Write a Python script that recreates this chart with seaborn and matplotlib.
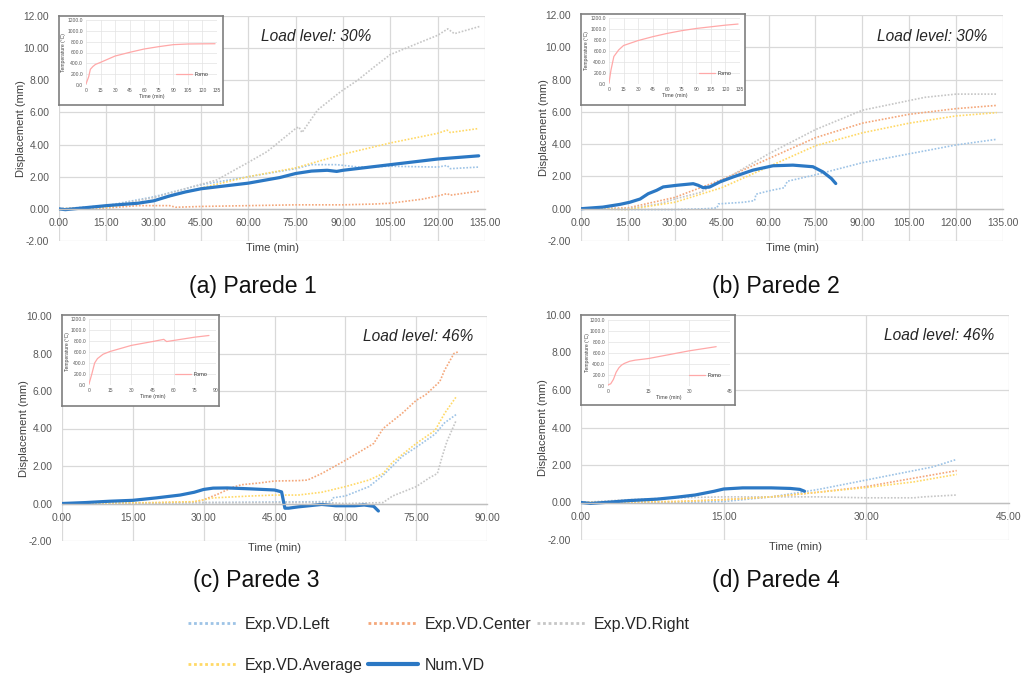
import numpy as np
import matplotlib.pyplot as plt
import seaborn as sns
from matplotlib.lines import Line2D
from matplotlib.ticker import FormatStrFormatter

# ---- values ----
# (a) Parede 1
a_left_t = [0, 15, 30, 45, 60, 75, 80, 88, 95, 105, 120, 123, 124, 133]
a_left_y = [0, 0.2, 0.75, 1.5, 2.0, 2.5, 2.75, 2.75, 2.6, 2.65, 2.6, 2.7, 2.5, 2.6]
a_center_t = [0, 15, 25, 35, 37, 45, 60, 75, 90, 100, 105, 115, 120, 123, 124, 133]
a_center_y = [0, 0.05, 0.2, 0.2, 0.1, 0.15, 0.2, 0.25, 0.25, 0.3, 0.35, 0.6, 0.8, 0.95, 0.85, 1.1]
a_right_t = [0, 15, 30, 40, 50, 59.6, 66, 75, 76, 77, 82, 89.3, 94.6, 100, 105, 113.7, 120, 123.2, 125.3, 133.3]
a_right_y = [0, 0.15, 0.7, 1.25, 1.8, 2.85, 3.57, 5.0, 5.1, 4.75, 6.16, 7.3, 8.0, 8.85, 9.6, 10.3, 10.8, 11.2, 10.9, 11.35]
a_avg_t = [0, 15, 30, 45, 60, 75, 90, 105, 120, 123, 124, 133]
a_avg_y = [0, 0.1, 0.5, 1.3, 2.0, 2.55, 3.4, 4.1, 4.7, 4.9, 4.75, 5.0]
a_num_t = [0, 2, 15, 25, 30, 35, 40, 45, 60, 70, 75, 80, 85, 88, 90, 105, 120, 133]
a_num_y = [0, -0.05, 0.2, 0.35, 0.5, 0.8, 1.05, 1.25, 1.6, 1.95, 2.2, 2.35, 2.4, 2.33, 2.4, 2.75, 3.1, 3.3]

# (b) Parede 2
b_left_t = [0, 15, 30, 40, 43.5, 44, 52, 55.5, 56, 60, 65, 66, 75, 90, 105, 120, 133]
b_left_y = [0, -0.05, -0.05, 0.0, 0.05, 0.3, 0.4, 0.5, 0.9, 1.1, 1.3, 1.7, 2.1, 2.85, 3.4, 3.95, 4.3]
b_center_t = [0, 15, 30, 45, 60, 75, 90, 105, 120, 133]
b_center_y = [0, 0.05, 0.7, 1.8, 3.1, 4.4, 5.3, 5.85, 6.2, 6.4]
b_right_t = [0, 15, 25, 30, 38, 45, 60, 75, 90, 100, 110, 120, 133]
b_right_y = [0, 0.0, 0.3, 0.6, 1.0, 1.7, 3.4, 4.9, 6.1, 6.5, 6.9, 7.1, 7.1]
b_avg_t = [0, 15, 30, 45, 60, 75, 90, 105, 120, 133]
b_avg_y = [0, -0.05, 0.4, 1.3, 2.6, 3.9, 4.7, 5.3, 5.75, 5.95]
b_num_t = [0, 7, 12.5, 15.6, 18.9, 21.5, 24.2, 26.3, 30.6, 35.9, 37.5, 39.1, 41.2, 44.4, 48.7, 55, 61.4, 67.8, 74.2, 77.4, 80.1, 81.5]
b_num_y = [0, 0.1, 0.27, 0.4, 0.6, 0.93, 1.14, 1.35, 1.45, 1.55, 1.45, 1.3, 1.35, 1.66, 1.97, 2.39, 2.66, 2.7, 2.6, 2.28, 1.87, 1.56]

# (c) Parede 3
c_left_t = [0, 30, 57, 57.3, 60, 65, 68, 70, 72, 75, 79, 81, 83.5]
c_left_y = [0, 0.05, 0.1, 0.3, 0.4, 0.9, 1.5, 2.0, 2.5, 3.0, 3.7, 4.3, 4.75]
c_center_t = [0, 15, 28, 30, 33, 36, 38, 42, 45, 50, 52, 55, 60, 64, 66, 68, 72, 75, 77, 80, 81, 83, 84]
c_center_y = [0, 0.02, 0.08, 0.2, 0.5, 0.85, 1.0, 1.1, 1.2, 1.22, 1.25, 1.6, 2.3, 2.9, 3.2, 4.0, 4.8, 5.5, 5.8, 6.5, 7.1, 8.0, 8.1]
c_right_t = [0, 30, 56, 60, 68, 70, 73, 75, 78, 79.5, 80.5, 81.5, 83.5]
c_right_y = [0, 0.05, 0.05, 0.0, 0.05, 0.4, 0.7, 0.9, 1.4, 1.6, 2.5, 3.3, 4.45]
c_avg_t = [0, 20, 28, 32, 40, 45, 50, 55, 60, 65, 68, 70, 72, 75, 79, 81, 83.5]
c_avg_y = [0, 0.05, 0.1, 0.3, 0.4, 0.45, 0.45, 0.6, 0.9, 1.25, 1.6, 2.2, 2.6, 3.2, 3.9, 4.8, 5.7]
c_num_t = [0, 5, 10, 15, 20, 25, 28, 30, 32, 35, 40, 45, 46.5, 47.2, 48, 50, 55, 58, 62, 64, 66, 67]
c_num_y = [0, 0.05, 0.12, 0.17, 0.3, 0.45, 0.6, 0.75, 0.82, 0.83, 0.78, 0.72, 0.62, -0.25, -0.25, -0.18, -0.05, -0.12, -0.12, -0.08, -0.15, -0.4]

# (d) Parede 4
d_left_t = [0, 10, 15, 20, 25, 30, 35, 37, 39.5]
d_left_y = [0, 0.0, 0.05, 0.3, 0.7, 1.2, 1.7, 1.9, 2.3]
d_center_t = [0, 10, 15, 20, 25, 30, 35, 39.5]
d_center_y = [0, 0.05, 0.15, 0.3, 0.55, 0.85, 1.3, 1.7]
d_right_t = [0, 5, 10, 15, 20, 25, 30, 35, 36, 39.5]
d_right_y = [0, 0.15, 0.25, 0.3, 0.3, 0.3, 0.25, 0.25, 0.3, 0.4]
d_avg_t = [0, 10, 15, 20, 25, 30, 35, 39.5]
d_avg_y = [0, 0.05, 0.15, 0.3, 0.55, 0.8, 1.1, 1.5]
d_num_t = [0, 1, 3, 5, 8, 10, 12, 14, 15, 17, 20, 22, 23, 23.5]
d_num_y = [0, -0.05, 0.02, 0.1, 0.18, 0.28, 0.4, 0.6, 0.72, 0.78, 0.78, 0.75, 0.7, 0.6]

# furnace temperature (insets)
a_furnace_t = [0, 2.8, 4.5, 7, 9.75, 15, 30, 45, 60, 75, 90, 105, 120, 133]
a_furnace_T = [20, 154, 290, 340, 380, 418, 535, 603, 665, 708, 745, 757, 760, 762]
b_furnace_t = [0, 2, 5, 10, 15, 30, 45, 60, 75, 90, 105, 120, 133]
b_furnace_T = [20, 250, 500, 620, 700, 790, 860, 920, 970, 1010, 1040, 1070, 1090]
c_furnace_t = [0, 2, 4, 6, 10, 15, 30, 45, 53, 54, 55, 60, 75, 85]
c_furnace_T = [20, 200, 400, 480, 560, 610, 720, 790, 830, 810, 790, 810, 870, 900]
d_furnace_t = [0, 1, 2, 3, 4, 5, 6, 8, 10, 15, 30, 39.9]
d_furnace_T = [20, 40, 120, 250, 330, 380, 410, 450, 470, 500, 640, 715]

series_names = ['Exp.VD.Left', 'Exp.VD.Center', 'Exp.VD.Right', 'Exp.VD.Average', 'Num.VD']
load_levels = ['Load level: 30%', 'Load level: 30%', 'Load level: 46%', 'Load level: 46%']
captions = ['(a) Parede 1', '(b) Parede 2', '(c) Parede 3', '(d) Parede 4']

colors = ['#9DC3E6', '#F4A77A', '#C6C6C6', '#FFD966', '#2B78C4']
widths = [1.2, 1.2, 1.2, 1.2, 2.3]
dotted = (0, (1, 1))
styles = [dotted, dotted, dotted, dotted, '-']

sns.set_theme(style='whitegrid')
plt.rcParams['font.family'] = ['Liberation Sans', 'DejaVu Sans']

W, H = 1022, 684
fig = plt.figure(figsize=(W / 100, H / 100), dpi=100)
fig.patch.set_facecolor('white')


def px_rect(x0, y0, x1, y1):
    return [x0 / W, 1 - y1 / H, (x1 - x0) / W, (y1 - y0) / H]


def draw_panel(rect, data, xmax, ymax, load, load_x):
    ax = fig.add_axes(px_rect(*rect))
    ax.set_facecolor('white')
    for (t, y), c, lw, ls in zip(data, colors, widths, styles):
        sns.lineplot(x=t, y=y, ax=ax, color=c, lw=lw, ls=ls, estimator=None, sort=False)
    ax.set_xlim(0, xmax)
    ax.set_ylim(-2, ymax)
    ax.set_xticks(np.arange(0, xmax + 1, 15))
    ax.set_yticks(np.arange(-2, ymax + 1, 2))
    ax.xaxis.set_major_formatter(FormatStrFormatter('%.2f'))
    ax.yaxis.set_major_formatter(FormatStrFormatter('%.2f'))
    ax.grid(True, color='#D9D9D9', lw=0.9)
    for s in ['top', 'right', 'left']:
        ax.spines[s].set_visible(False)
    ax.spines['bottom'].set_position(('data', 0))
    ax.spines['bottom'].set_color('#BFBFBF')
    ax.spines['bottom'].set_linewidth(1.0)
    ax.tick_params(axis='both', length=0, labelsize=7.4, labelcolor='#595959')
    ax.tick_params(axis='x', pad=6.5)
    ax.tick_params(axis='y', pad=7)
    ax.set_xlabel('Time (min)', fontsize=8, color='#404040')
    ax.xaxis.set_label_coords(0.5, -0.01)
    ax.set_ylabel('Displacement (mm)', fontsize=8, color='#404040')
    ax.yaxis.set_label_coords(-0.077, 0.5)
    ax.text(load_x, 0.907, load, transform=ax.transAxes, style='italic',
            fontsize=11.2, ha='center', va='center', color='#262626')
    return ax


def draw_inset(box_px, plot_px, t, T, xmax):
    box = fig.add_axes(px_rect(*box_px), zorder=3)
    box.set_facecolor('white')
    box.set_xticks([])
    box.set_yticks([])
    box.grid(False)
    for s in box.spines.values():
        s.set_visible(True)
        s.set_color('#7F7F7F')
        s.set_linewidth(1.2)
    ins = fig.add_axes(px_rect(*plot_px), zorder=4)
    ins.set_facecolor('none')
    sns.lineplot(x=t, y=T, ax=ins, color='#FFA8A8', lw=0.9, label='Forno',
                 estimator=None, sort=False)
    ins.set_xlim(0, xmax)
    ins.set_ylim(0, 1200)
    ins.set_xticks(np.arange(0, xmax + 1, 15))
    ins.set_yticks(np.arange(0, 1201, 200))
    ins.yaxis.set_major_formatter(FormatStrFormatter('%.1f'))
    ins.grid(True, color='#E3E3E3', lw=0.5)
    for s in ins.spines.values():
        s.set_visible(False)
    ins.tick_params(axis='both', length=0, labelsize=3.6, labelcolor='#595959', pad=2)
    ins.set_xlabel('Time (min)', fontsize=3.8, color='#404040')
    ins.xaxis.set_label_coords(0.5, -0.14)
    ins.set_ylabel('Temperature (°C)', fontsize=3.6, color='#404040')
    ins.yaxis.set_label_coords(-0.15, 0.5)
    ins.legend(loc='lower right', fontsize=3.8, frameon=False, handlelength=3,
               handletextpad=0.5, borderaxespad=1.2)


panel_a = [(a_left_t, a_left_y), (a_center_t, a_center_y), (a_right_t, a_right_y),
           (a_avg_t, a_avg_y), (a_num_t, a_num_y)]
panel_b = [(b_left_t, b_left_y), (b_center_t, b_center_y), (b_right_t, b_right_y),
           (b_avg_t, b_avg_y), (b_num_t, b_num_y)]
panel_c = [(c_left_t, c_left_y), (c_center_t, c_center_y), (c_right_t, c_right_y),
           (c_avg_t, c_avg_y), (c_num_t, c_num_y)]
panel_d = [(d_left_t, d_left_y), (d_center_t, d_center_y), (d_right_t, d_right_y),
           (d_avg_t, d_avg_y), (d_num_t, d_num_y)]

draw_panel((59, 16, 485, 241), panel_a, 135, 12, load_levels[0], 0.603)
draw_panel((581, 15, 1003, 241), panel_b, 135, 12, load_levels[1], 0.832)
draw_panel((62, 316, 487, 541), panel_c, 90, 10, load_levels[2], 0.838)
draw_panel((581, 315, 1009, 540), panel_d, 45, 10, load_levels[3], 0.836)

draw_inset((59, 16, 223, 105), (86, 20, 217, 85), a_furnace_t, a_furnace_T, 135)
draw_inset((581, 14, 745, 105), (609, 18, 740, 84), b_furnace_t, b_furnace_T, 135)
draw_inset((62, 315, 219, 406), (89, 319, 216, 385), c_furnace_t, c_furnace_T, 90)
draw_inset((581, 315, 735, 405), (608, 320, 730, 386), d_furnace_t, d_furnace_T, 45)

# captions under each panel
for (cx, cy), txt in zip([(253, 286), (776, 286), (256, 581), (776, 581)], captions):
    fig.text(cx / W, 1 - cy / H, txt, fontsize=16.6, ha='center', va='center',
             color='#111111')

# shared legend, row-major order via column-major handle order
handles = [Line2D([], [], color=c, lw=(3 if ls == '-' else 2), ls=ls)
           for c, ls in zip(colors, styles)]
order = [0, 3, 1, 4, 2]
fig.legend([handles[i] for i in order], [series_names[i] for i in order],
           loc='upper left', bbox_to_anchor=(188 / W, 1 - 617 / H), ncol=3,
           frameon=False, fontsize=11.5, handlelength=3.1, handletextpad=0.45,
           columnspacing=0.35, labelspacing=1.6, borderpad=0, borderaxespad=0,
           labelcolor='#262626')

fig.savefig('out.png', dpi=100)
